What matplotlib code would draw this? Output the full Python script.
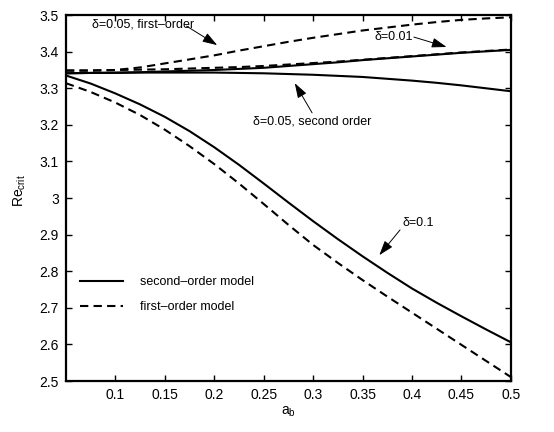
import matplotlib
matplotlib.use('Agg')
import matplotlib.pyplot as plt
from matplotlib.ticker import FormatStrFormatter, MultipleLocator

plt.rcParams['font.family'] = ['Liberation Sans', 'DejaVu Sans']
plt.rcParams['mathtext.default'] = 'regular'

# a_b grid
a_b = [0.05, 0.075, 0.1, 0.125, 0.15, 0.175, 0.2, 0.225, 0.25, 0.275,
       0.3, 0.325, 0.35, 0.375, 0.4, 0.425, 0.45, 0.475, 0.5]

# delta = 0.1
d10_second = [3.335, 3.313, 3.286, 3.256, 3.222, 3.183, 3.139, 3.091, 3.040, 2.988,
              2.937, 2.888, 2.841, 2.796, 2.753, 2.714, 2.677, 2.641, 2.606]
d10_first = [3.314, 3.290, 3.261, 3.227, 3.187, 3.142, 3.093, 3.040, 2.984, 2.927,
             2.872, 2.823, 2.776, 2.731, 2.687, 2.643, 2.599, 2.555, 2.511]

# delta = 0.05
d05_second = [3.341, 3.342, 3.342, 3.343, 3.343, 3.343, 3.343, 3.342, 3.341, 3.339,
              3.337, 3.334, 3.331, 3.326, 3.321, 3.315, 3.308, 3.300, 3.292]
d05_first = [3.348, 3.348, 3.350, 3.357, 3.368, 3.379, 3.390, 3.403, 3.415, 3.427,
             3.438, 3.448, 3.458, 3.466, 3.474, 3.481, 3.487, 3.491, 3.494]

# delta = 0.01
d01_second = [3.341, 3.342, 3.343, 3.344, 3.346, 3.348, 3.350, 3.353, 3.356, 3.361,
              3.366, 3.371, 3.377, 3.382, 3.387, 3.392, 3.397, 3.401, 3.405]
d01_first = [3.349, 3.349, 3.350, 3.351, 3.352, 3.354, 3.356, 3.358, 3.361, 3.365,
             3.369, 3.373, 3.378, 3.383, 3.388, 3.393, 3.398, 3.402, 3.406]

x_ticks = [0.1, 0.15, 0.2, 0.25, 0.3, 0.35, 0.4, 0.45, 0.5]

dash = (4, 2.5)
fig = plt.figure(figsize=(5.54, 4.32), dpi=100)
ax = fig.add_axes([0.119, 0.118, 0.803, 0.847])

ax.plot(a_b, d10_second, 'k-', lw=1.5, label='second\u2013order model')
ax.plot(a_b, d10_first, 'k--', lw=1.5, dashes=dash, label='first\u2013order model')
ax.plot(a_b, d05_second, 'k-', lw=1.5)
ax.plot(a_b, d05_first, 'k--', lw=1.5, dashes=dash)
ax.plot(a_b, d01_first, 'k--', lw=1.5, dashes=dash)
ax.plot(a_b, d01_second, 'k-', lw=1.5)

ax.set_xlim(0.05, 0.5)
ax.set_ylim(2.5, 3.5)
ax.set_xticks(x_ticks)
ax.yaxis.set_major_locator(MultipleLocator(0.1))
ax.xaxis.set_major_formatter(FormatStrFormatter('%g'))
ax.yaxis.set_major_formatter(FormatStrFormatter('%g'))
ax.tick_params(direction='in', top=True, right=True, length=4, width=1,
               labelsize=10, pad=5)
for s in ax.spines.values():
    s.set_linewidth(1.6)

ax.set_xlabel('a$_b$', fontsize=10, labelpad=2)
ax.set_ylabel('Re$_{crit}$', fontsize=10, labelpad=4)
ax.yaxis.set_label_coords(-0.085, 0.52)

arr = dict(arrowstyle='-|>,head_length=0.9,head_width=0.3', color='k', lw=0.7,
           shrinkA=0, shrinkB=0)
fs = 9
ax.text(0.076, 3.473, '\u03b4=0.05, first\u2013order', fontsize=fs, va='center')
ax.annotate('', xy=(0.203, 3.418), xytext=(0.172, 3.470), arrowprops=arr)

ax.text(0.362, 3.44, '\u03b4=0.01', fontsize=fs, va='center')
ax.annotate('', xy=(0.435, 3.413), xytext=(0.402, 3.44), arrowprops=arr)

ax.text(0.239, 3.208, '\u03b4=0.05, second order', fontsize=fs, va='center')
ax.annotate('', xy=(0.2815, 3.314), xytext=(0.299, 3.233), arrowprops=arr)

ax.text(0.39, 2.931, '\u03b4=0.1', fontsize=fs, va='center')
ax.annotate('', xy=(0.367, 2.844), xytext=(0.388, 2.913), arrowprops=arr)

ax.legend(loc='upper left', bbox_to_anchor=(0.031, 0.287), frameon=False,
          fontsize=fs, handlelength=3.5, handletextpad=1.3, labelspacing=1.05,
          borderpad=0, borderaxespad=0)

fig.savefig('out.png', dpi=100)
